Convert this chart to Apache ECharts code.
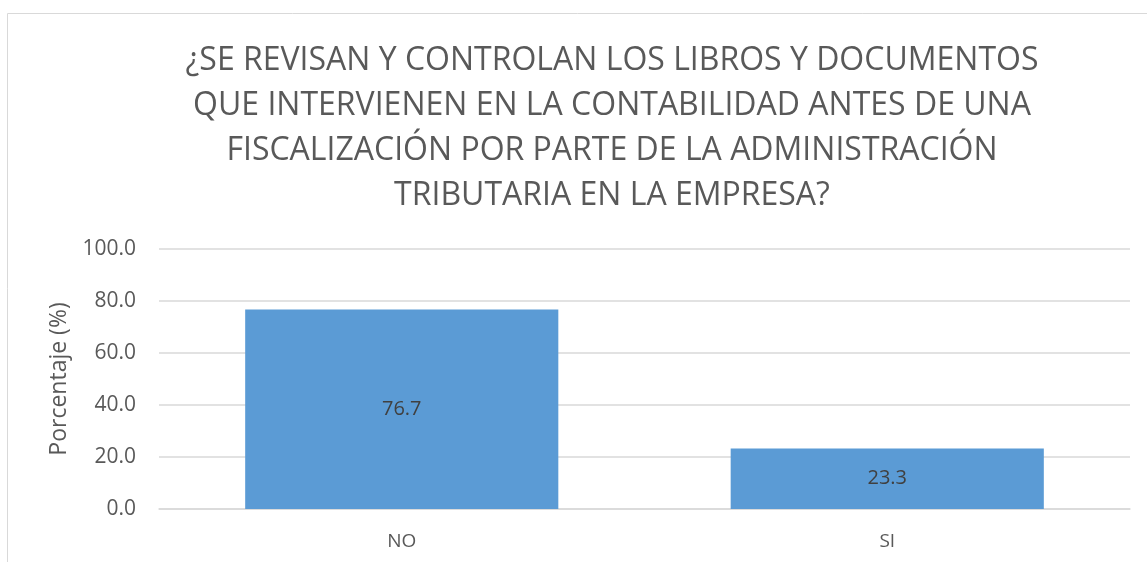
<!DOCTYPE html>
<html>
<head>
<meta charset="utf-8">
<script src="https://cdn.jsdelivr.net/npm/echarts@6/dist/echarts.min.js"></script>
<style>
  html, body { margin: 0; padding: 0; background: #fff; }
  #chart { width: 1147px; height: 562px; }
</style>
</head>
<body>
<div id="chart"></div>
<script>
var categories = ['NO', 'SI'];
var percentages = [76.7, 23.3];
var titleLines = [
    '¿SE REVISAN Y CONTROLAN LOS LIBROS Y DOCUMENTOS',
    'QUE INTERVIENEN EN LA CONTABILIDAD ANTES DE UNA',
    'FISCALIZACIÓN POR PARTE DE LA ADMINISTRACIÓN',
    'TRIBUTARIA EN LA EMPRESA?'
];

var font = 'Open Sans';

echarts.init(document.getElementById('chart')).setOption({
    animation: false,
    graphic: [
        {
            type: 'rect',
            shape: { x: 7.5, y: 13.5, width: 1200, height: 600 },
            style: { fill: 'none', stroke: '#d9d9d9', lineWidth: 1 },
            silent: true
        }
    ],
    title: {
        text: titleLines.join('\n'),
        left: 607,
        textAlign: 'center',
        top: 33,
        textStyle: {
            fontFamily: font,
            fontWeight: 'normal',
            fontSize: 32,
            lineHeight: 45,
            color: '#595959'
        }
    },
    grid: {
        left: 159,
        right: 17,
        top: 249,
        bottom: 53
    },
    xAxis: {
        type: 'category',
        data: categories,
        axisTick: { show: false },
        axisLine: { lineStyle: { color: '#d9d9d9', width: 1.5 } },
        axisLabel: {
            fontFamily: font,
            fontSize: 19,
            color: '#595959',
            margin: 23
        }
    },
    yAxis: {
        type: 'value',
        min: 0,
        max: 100,
        interval: 20,
        name: 'Porcentaje (%)',
        nameLocation: 'middle',
        nameGap: 88,
        nameTextStyle: {
            fontFamily: font,
            fontSize: 23,
            color: '#595959'
        },
        axisLabel: {
            fontFamily: font,
            fontSize: 21,
            color: '#595959',
            margin: 23,
            formatter: function (value) {
                return value.toFixed(1);
            }
        },
        splitLine: { lineStyle: { color: '#d9d9d9', width: 1.5 } }
    },
    series: [
        {
            type: 'bar',
            data: percentages,
            barWidth: '64.5%',
            itemStyle: { color: '#5b9bd5' },
            label: {
                show: true,
                position: 'inside',
                fontFamily: font,
                fontSize: 20,
                color: '#404040',
                formatter: function (params) {
                    return params.value.toFixed(1);
                }
            }
        }
    ]
});
</script>
</body>
</html>
